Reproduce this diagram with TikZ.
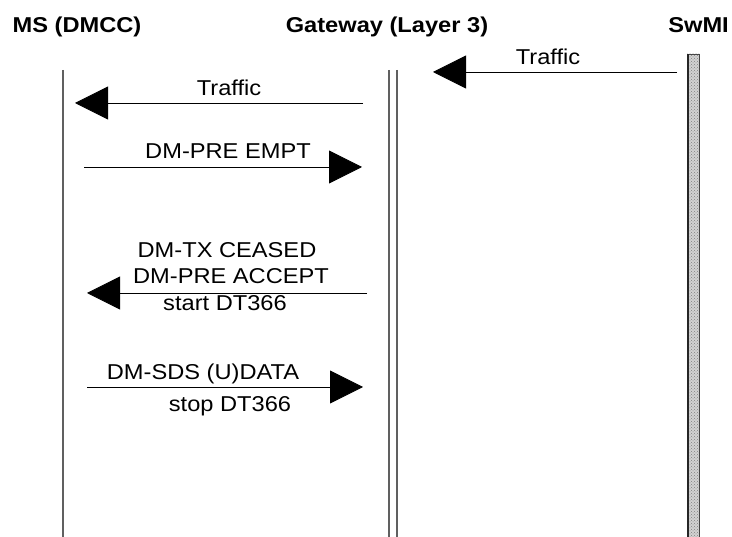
\documentclass[tikz,border=0pt]{standalone}
\usepackage{fontspec}
\setmainfont{Liberation Sans}[FakeStretch=1.1]
\usetikzlibrary{arrows.meta,positioning,patterns}

\begin{document}
\begin{tikzpicture}[x=1pt,y=-1pt,>={Triangle[length=33pt,width=33pt]},
  every node/.style={font=\fontsize{21.5}{26}\selectfont,inner sep=0pt,anchor=base},
  head/.style={font=\fontsize{21.5}{26}\selectfont\bfseries},
  life/.style={draw=gray!75!black,line width=1.4pt},
  msg/.style={->,line width=0.8pt}]

\useasboundingbox (0,0) rectangle (732,537);

% headings
\node[head] (ms)   at (77,33)  {MS (DMCC)};
\node[head] (gw)   at (387,33) {Gateway (Layer 3)};
\node[head,anchor=base east] (swmi) at (729,33) {SwMI};

% lifelines
\draw[life] (63,70) -- (63,537);
\draw[life] (389,70) -- (389,537);
\draw[life] (397,70) -- (397,537);
\fill[gray!35] (687,54) rectangle (699,537);
\fill[pattern=crosshatch dots,pattern color=gray] (687,54) rectangle (699,537);
\draw[gray!55!black,line width=0.8pt] (687,54) rectangle (699,537);
\draw[gray!30!black,line width=1.2pt] (688,54) -- (688,537);

% message ends
\coordinate (sw1) at (677,72);  \coordinate (gw1) at (433,72);
\coordinate (gw2) at (363,103); \coordinate (ms2) at (75,103);
\coordinate (ms3) at (84,167);  \coordinate (gw3) at (362,167);
\coordinate (gw4) at (367,293); \coordinate (ms4) at (87,293);
\coordinate (ms5) at (87,387);  \coordinate (gw5) at (363,387);

% messages
\draw[msg] (sw1) -- (gw1);
\node (traffic1) at (548,65) {Traffic};

\draw[msg] (gw2) -- (ms2);
\node (traffic2) at (229,96) {Traffic};

\draw[msg] (ms3) -- (gw3);
\node (preempt) at (228,159) {DM-PRE EMPT};

\draw[msg] (gw4) -- (ms4);
\node (ceased) at (227,258) {DM-TX CEASED};
\node (accept) at (231,284) {DM-PRE ACCEPT};
\node (start)  at (225,311) {start DT366};

\draw[msg] (ms5) -- (gw5);
\node (sds)  at (203,380) {DM-SDS (U)DATA};
\node (stop) at (230,412) {stop DT366};

\end{tikzpicture}
\end{document}
